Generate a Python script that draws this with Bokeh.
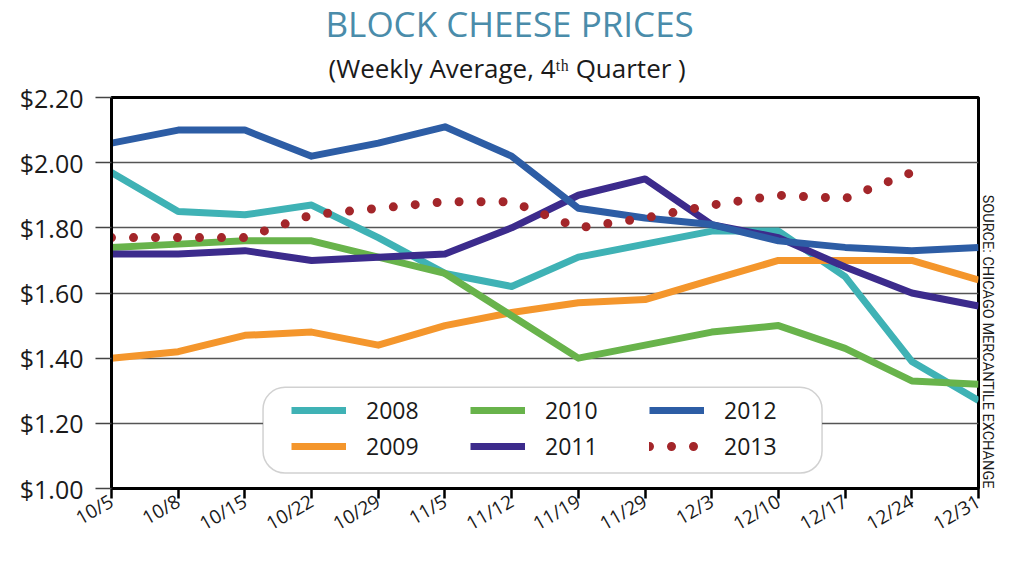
import math
from bokeh.plotting import figure
from bokeh.models import (FixedTicker, NumeralTickFormatter, Legend, LegendItem,
                          BoxAnnotation, Title, Range1d)
from bokeh.embed import file_html
from bokeh.resources import INLINE

# ---------------- data ----------------
weeks = ["10/5", "10/8", "10/15", "10/22", "10/29", "11/5", "11/12",
         "11/19", "11/29", "12/3", "12/10", "12/17", "12/24", "12/31"]
p2008 = [1.97, 1.85, 1.84, 1.87, 1.77, 1.66, 1.62, 1.71, 1.75, 1.79, 1.79, 1.65, 1.39, 1.27]
p2009 = [1.40, 1.42, 1.47, 1.48, 1.44, 1.50, 1.54, 1.57, 1.58, 1.64, 1.70, 1.70, 1.70, 1.64]
p2010 = [1.74, 1.75, 1.76, 1.76, 1.71, 1.66, 1.53, 1.40, 1.44, 1.48, 1.50, 1.43, 1.33, 1.32]
p2011 = [1.72, 1.72, 1.73, 1.70, 1.71, 1.72, 1.80, 1.90, 1.95, 1.81, 1.77, 1.68, 1.60, 1.56]
p2012 = [2.06, 2.10, 2.10, 2.02, 2.06, 2.11, 2.02, 1.86, 1.83, 1.81, 1.76, 1.74, 1.73, 1.74]
p2013 = [1.77, 1.77, 1.77, 1.84, 1.86, 1.88, 1.88, 1.80, 1.83, 1.87, 1.90, 1.89, 1.97]
y_ticks = [1.00, 1.20, 1.40, 1.60, 1.80, 2.00, 2.20]

series = [
    ("2008", p2008, "#3FB2B5", None),
    ("2009", p2009, "#F4962C", None),
    ("2010", p2010, "#68B34B", None),
    ("2011", p2011, "#3C2B8C", None),
    ("2012", p2012, "#2D5DA5", None),
    ("2013", p2013, "#A3262A", "0 22"),
]

FONT = "Open Sans"

p = figure(width=997, height=550, output_backend="svg", toolbar_location=None,
           x_range=Range1d(0, len(weeks) - 1), y_range=Range1d(y_ticks[0], y_ticks[-1]),
           min_border_left=111, min_border_right=16, min_border_top=97, min_border_bottom=50)
p.background_fill_color = "white"
p.border_fill_color = "white"
p.outline_line_color = "black"
p.outline_line_width = 3

# titles: main title on top, subtitle stacked closer to the frame
p.title.text = "BLOCK CHEESE PRICES"
p.title.align = "left"
p.title.offset = 214
p.title.text_font = FONT
p.title.text_font_size = "35px"
p.title.text_font_style = "normal"
p.title.text_color = "#4A8CAA"
p.title.standoff = -14
sub_title = Title(text="(Weekly Average, 4\u1d57\u02b0 Quarter )", align="left", offset=217,
                  text_font=FONT, text_font_size="26px", text_font_style="normal",
                  text_color="#1a1a1a", standoff=20, vertical_align="top")
p.add_layout(sub_title, "above")

source_title = Title(text="SOURCE: CHICAGO MERCANTILE EXCHANGE", align="right",
                     text_font="Roboto", text_font_size="14.5px", text_font_style="normal",
                     text_color="#1a1a1a", standoff=0, offset=0)
p.add_layout(source_title, "right")

# y axis
p.yaxis.ticker = FixedTicker(ticks=y_ticks)
p.yaxis.formatter = NumeralTickFormatter(format="$0.00")
p.yaxis.axis_line_color = "black"
p.yaxis.axis_line_width = 3
p.yaxis.major_tick_out = 16
p.yaxis.major_tick_in = 0
p.yaxis.major_tick_line_color = "#444444"
p.yaxis.major_tick_line_width = 1.5
p.yaxis.minor_tick_line_color = None
p.yaxis.major_label_text_font = FONT
p.yaxis.major_label_text_font_size = "25px"
p.yaxis.major_label_text_color = "#1a1a1a"
p.yaxis.major_label_standoff = 12

# x axis
p.xaxis.ticker = FixedTicker(ticks=list(range(len(weeks))))
p.xaxis.major_label_overrides = {i: w for i, w in enumerate(weeks)}
p.xaxis.major_label_orientation = 0.52
p.xaxis.major_label_text_font = FONT
p.xaxis.major_label_text_font_size = "19px"
p.xaxis.major_label_text_color = "#1a1a1a"
p.xaxis.major_label_standoff = 1
p.xaxis.axis_line_color = "black"
p.xaxis.axis_line_width = 3
p.xaxis.major_tick_out = 10
p.xaxis.major_tick_in = 0
p.xaxis.major_tick_line_color = "black"
p.xaxis.major_tick_line_width = 2.5
p.xaxis.minor_tick_line_color = None

p.xgrid.visible = False
p.ygrid.grid_line_color = "#555555"
p.ygrid.grid_line_width = 1.5

# lines
renderers = {}
for name, vals, color, dash in series:
    xs = list(range(len(vals)))
    if dash is None:
        r = p.line(xs, vals, line_color=color, line_width=7, line_join="round")
    else:
        r = p.line(xs, vals, line_color=color, line_width=9, line_dash=dash,
                   line_cap="round", line_join="round")
    renderers[name] = r

# rounded legend box
box = BoxAnnotation(left=2.272, right=10.654, top=1.3104, bottom=1.0473,
                    fill_color="white", fill_alpha=1, line_color="#666666",
                    line_width=1.5, border_radius=22)
p.add_layout(box)

legend = Legend(items=[LegendItem(label=n, renderers=[renderers[n]]) for n, _, _, _ in series],
                orientation="vertical", nrows=2, location=(170, 16),
                glyph_width=55, glyph_height=32, label_height=32, label_width=100,
                label_standoff=20, spacing=4, padding=10, margin=0,
                label_text_font=FONT, label_text_font_size="23px",
                label_text_color="#1a1a1a",
                background_fill_alpha=0, border_line_alpha=0)
p.add_layout(legend)

open("out.html", "w").write(file_html(p, INLINE))
